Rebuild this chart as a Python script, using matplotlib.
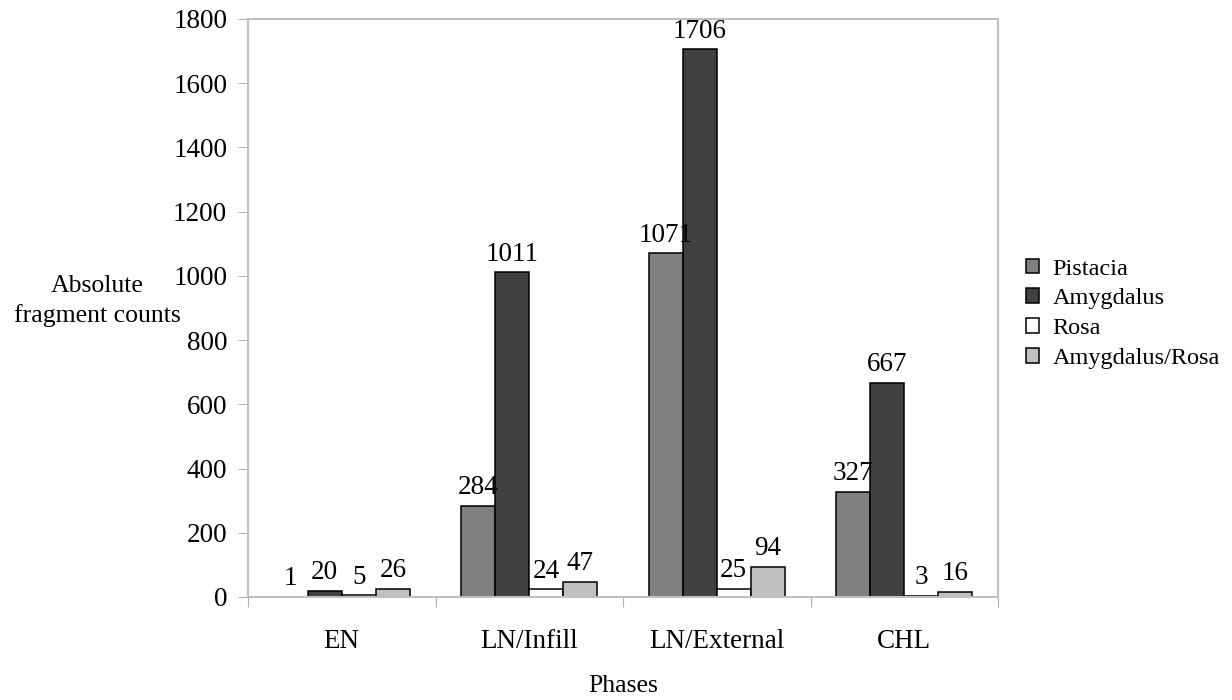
import numpy as np
import matplotlib
matplotlib.use("Agg")
import matplotlib.pyplot as plt

# Fragment counts per phase
phases = ["EN", "LN/Infill", "LN/External", "CHL"]
taxa = ["Pistacia", "Amygdalus", "Rosa", "Amygdalus/Rosa"]
pistacia = [1, 284, 1071, 327]
amygdalus = [20, 1011, 1706, 667]
rosa = [5, 24, 25, 3]
amyg_rosa = [26, 47, 94, 16]
y_ticks = list(range(0, 2000, 200))

series = [pistacia, amygdalus, rosa, amyg_rosa]
colors = ["#808080", "#404040", "#ffffff", "#c0c0c0"]

plt.rcParams["font.family"] = ["Liberation Serif", "DejaVu Serif"]
FS = 19.5

fig = plt.figure(figsize=(12.32, 7.0), dpi=100)
ax = fig.add_axes([248 / 1232, 103 / 700, 750 / 1232, 578 / 700])

x = np.arange(len(phases))
w = 1 / 5.5  # Excel-style 150% gap width
for i, (vals, col, name) in enumerate(zip(series, colors, taxa)):
    pos = x + (i - 1.5) * w
    bars = ax.bar(pos, vals, width=w, color=col, edgecolor="black",
                  linewidth=1.1, label=name)
    for b, v in zip(bars, vals):
        ax.annotate(str(v), (b.get_x() + b.get_width() / 2, v),
                    xytext=(0, 4), textcoords="offset points",
                    ha="center", va="bottom", fontsize=FS)

ax.set_xlim(-0.5, len(phases) - 0.5)
ax.set_ylim(0, 1800)
ax.set_yticks(y_ticks)
ax.set_yticklabels([str(t) for t in y_ticks])

# boundary ticks (major) and centered labels (minor)
ax.set_xticks(np.arange(len(phases) + 1) - 0.5)
ax.set_xticklabels([])
ax.set_xticks(x, minor=True)
ax.set_xticklabels(phases, minor=True)
ax.tick_params(axis="x", which="major", length=7, color="#b0b0b0")
ax.tick_params(axis="x", which="minor", length=0, pad=23, labelsize=FS)
ax.tick_params(axis="y", length=7, color="#b0b0b0", pad=8, labelsize=FS)

for s in ax.spines.values():
    s.set_color("#c0c0c0")
    s.set_linewidth(1.5)

fig.text(97 / 1232, 1 - 301 / 700, "Absolute\nfragment counts",
         ha="center", va="center", fontsize=18.5, linespacing=1.35)
fig.text(623 / 1232, 1 - 686 / 700, "Phases", ha="center", va="center",
         fontsize=18.5)

leg = ax.legend(loc="center left", bbox_to_anchor=(1.024, 0.49), frameon=False,
                fontsize=17.5, handlelength=0.55, handleheight=0.55,
                handletextpad=0.55, labelspacing=0.36, borderaxespad=0)

fig.savefig("out.png", dpi=100)
